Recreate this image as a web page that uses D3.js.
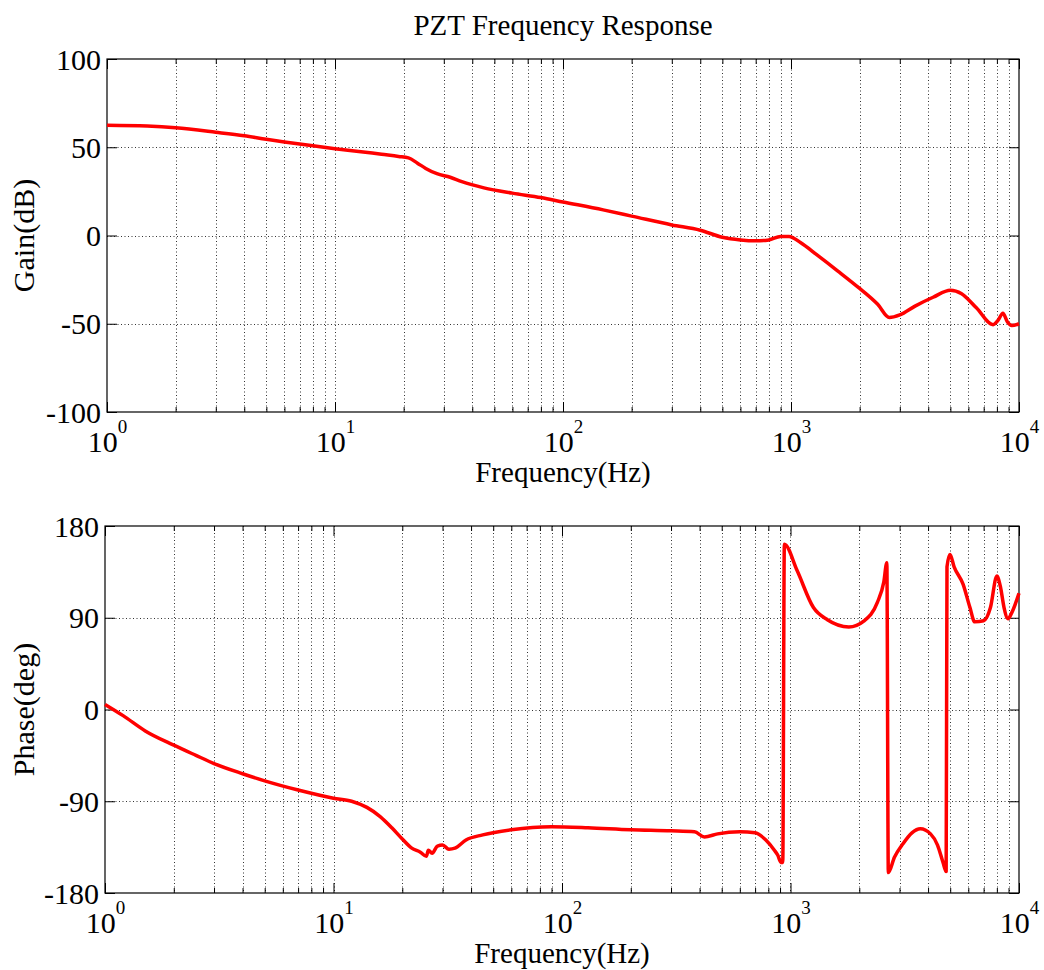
<!DOCTYPE html>
<html>
<head>
<meta charset="utf-8">
<script src="https://cdn.jsdelivr.net/npm/d3@7"></script>
<style>
  body { margin: 0; background: #fff; }
  svg text { font-family: "Liberation Serif", "Times New Roman", serif; fill: #000; }
</style>
</head>
<body>
<div id="chart"></div>
<script>
const width = 1044;
const height = 970;

// gain curve
const gainFreq = [1, 1.5, 2, 3, 4, 5, 6, 8, 10, 13, 16, 19, 21, 23, 25, 28, 32, 36, 45, 60, 80, 100,
  150, 200, 300, 400, 500, 600, 700, 800, 900, 980, 1100, 1300, 1600, 2000, 2400, 2700, 3000,
  3500, 4200, 5000, 5600, 6500, 7700, 8100, 8500, 8900, 9300, 10000];
const gainDb = [62.5, 62, 61, 58.5, 56.5, 54.5, 53, 50.8, 49.2, 47.5, 46, 44.8, 44, 41, 38, 35,
  33, 30.5, 27, 24, 21.5, 19, 14.5, 11, 6, 3, -1, -2.5, -3, -2.5, -0.5, -0.5, -4, -11, -20, -30,
  -39, -46.5, -45, -40, -35, -31, -33, -41, -50.5, -48, -44, -49, -51, -50];

// phase curve
const phaseFreq = [1, 1.2, 1.5, 2, 2.5, 3, 4, 5, 7, 10, 12, 14, 16, 18, 20, 22, 24, 25.5, 26, 27,
  28.5, 30, 32, 34, 38, 45, 60, 90, 130, 200, 300, 380, 420, 480, 600, 700, 780, 850, 880, 908,
  925, 940, 1070, 1260, 1450, 1800, 2100, 2400, 2560, 2640, 2680, 2850, 3100, 3400, 3700, 4100,
  4400, 4650, 4800, 4840, 4990, 5200, 5690, 6100, 6400, 7000, 7500, 8000, 8300, 8600, 8950,
  9300, 10000];
const phaseDeg = [5, -6, -21, -35, -45, -53, -63, -70, -79, -87, -90, -96, -105, -116, -127, -136,
  -140, -144, -138, -141, -134, -133, -137, -136, -128, -123, -118, -115, -116, -118, -119, -120,
  -125, -122, -120, -121, -128, -138, -143, -150, -150, 162, 136, 100, 88, 81, 87, 105, 125, 144,
  -160, -145, -132, -121, -117, -122, -133, -150, -159, 140, 152, 140, 123, 100, 86, 87, 100, 131,
  120, 100, 89, 95, 114];

const decades = [1, 10, 100, 1000, 10000];
const minorFreq = [];
for (let d = 1; d < 10000; d *= 10) {
  for (let m = 2; m <= 9; m++) minorFreq.push(d * m);
}

const gainTicks = [-100, -50, 0, 50, 100];
const phaseTicks = [-180, -90, 0, 90, 180];

const svg = d3.select("#chart")
  .append("svg")
  .attr("width", width)
  .attr("height", height);

svg.append("text")
  .attr("x", 563)
  .attr("y", 35)
  .attr("text-anchor", "middle")
  .style("font-size", "29px")
  .text("PZT Frequency Response");

function panel(box, freq, vals, yDomain, yTicks, yLabel) {
  const w = box.right - box.left;
  const h = box.bottom - box.top;
  const g = svg.append("g").attr("transform", `translate(${box.left},${box.top})`);

  const x = d3.scaleLog().domain([1, 10000]).range([0, w]);
  const y = d3.scaleLinear().domain(yDomain).range([h, 0]);

  // dotted grid
  const grid = g.append("g")
    .attr("stroke", "#333")
    .attr("stroke-width", 1)
    .attr("stroke-dasharray", "1,2.5");
  grid.selectAll(".gx")
    .data(decades.slice(1, -1).concat(minorFreq))
    .enter().append("line")
    .attr("x1", d => Math.round(x(d)) + 0.5).attr("x2", d => Math.round(x(d)) + 0.5)
    .attr("y1", 0).attr("y2", h);
  grid.selectAll(".gy")
    .data(yTicks.slice(1, -1))
    .enter().append("line")
    .attr("x1", 0).attr("x2", w)
    .attr("y1", d => Math.round(y(d)) + 0.5).attr("y2", d => Math.round(y(d)) + 0.5);

  // ticks on all four sides, pointing inwards
  const yl = g.append("g")
    .call(d3.axisLeft(y).tickValues(yTicks).tickSizeInner(-10).tickSizeOuter(0).tickPadding(6)
      .tickFormat(d => String(d)));
  yl.selectAll("text").style("font-size", "30px").attr("dy", "0.34em");
  g.append("g").attr("transform", `translate(${w},0)`)
    .call(d3.axisRight(y).tickValues(yTicks).tickSizeInner(-10).tickSizeOuter(0).tickFormat(""));

  const xb = g.append("g").attr("transform", `translate(0,${h})`)
    .call(d3.axisBottom(x).tickValues(decades).tickSizeInner(-10).tickSizeOuter(0).tickFormat(""));
  g.append("g").attr("transform", `translate(0,${h})`)
    .call(d3.axisBottom(x).tickValues(minorFreq).tickSizeInner(-5).tickSizeOuter(0).tickFormat(""));
  g.append("g")
    .call(d3.axisTop(x).tickValues(decades).tickSizeInner(-10).tickSizeOuter(0).tickFormat(""));
  g.append("g")
    .call(d3.axisTop(x).tickValues(minorFreq).tickSizeInner(-5).tickSizeOuter(0).tickFormat(""));
  g.selectAll(".domain").remove();
  g.selectAll(".tick line").attr("stroke", "#000");

  // 10^k labels
  xb.selectAll(".tick").each(function (d) {
    const t = d3.select(this).append("text")
      .attr("y", 40)
      .attr("text-anchor", "middle")
      .style("font-size", "30px");
    t.append("tspan").text("10");
    t.append("tspan")
      .attr("dy", -19)
      .style("font-size", "19px")
      .text(Math.round(Math.log10(d)));
  });

  g.append("rect")
    .attr("width", w).attr("height", h)
    .attr("fill", "none")
    .attr("stroke", "#000")
    .attr("stroke-width", 1.2);

  const line = d3.line()
    .x((d, i) => x(freq[i]))
    .y(d => y(d))
    .curve(d3.curveMonotoneX);

  g.append("path")
    .datum(vals)
    .attr("fill", "none")
    .attr("stroke", "#f00")
    .attr("stroke-width", 3.5)
    .attr("stroke-linejoin", "round")
    .attr("d", line);

  g.append("text")
    .attr("x", w / 2)
    .attr("y", h + 70)
    .attr("text-anchor", "middle")
    .style("font-size", "29px")
    .text("Frequency(Hz)");

  g.append("text")
    .attr("transform", "rotate(-90)")
    .attr("x", -h / 2)
    .attr("y", 34 - box.left)
    .attr("text-anchor", "middle")
    .style("font-size", "30px")
    .text(yLabel);
}

panel({ left: 107, right: 1019, top: 59, bottom: 412 }, gainFreq, gainDb, [-100, 100], gainTicks, "Gain(dB)");
panel({ left: 105, right: 1019, top: 526, bottom: 893 }, phaseFreq, phaseDeg, [-180, 180], phaseTicks, "Phase(deg)");
</script>
</body>
</html>
